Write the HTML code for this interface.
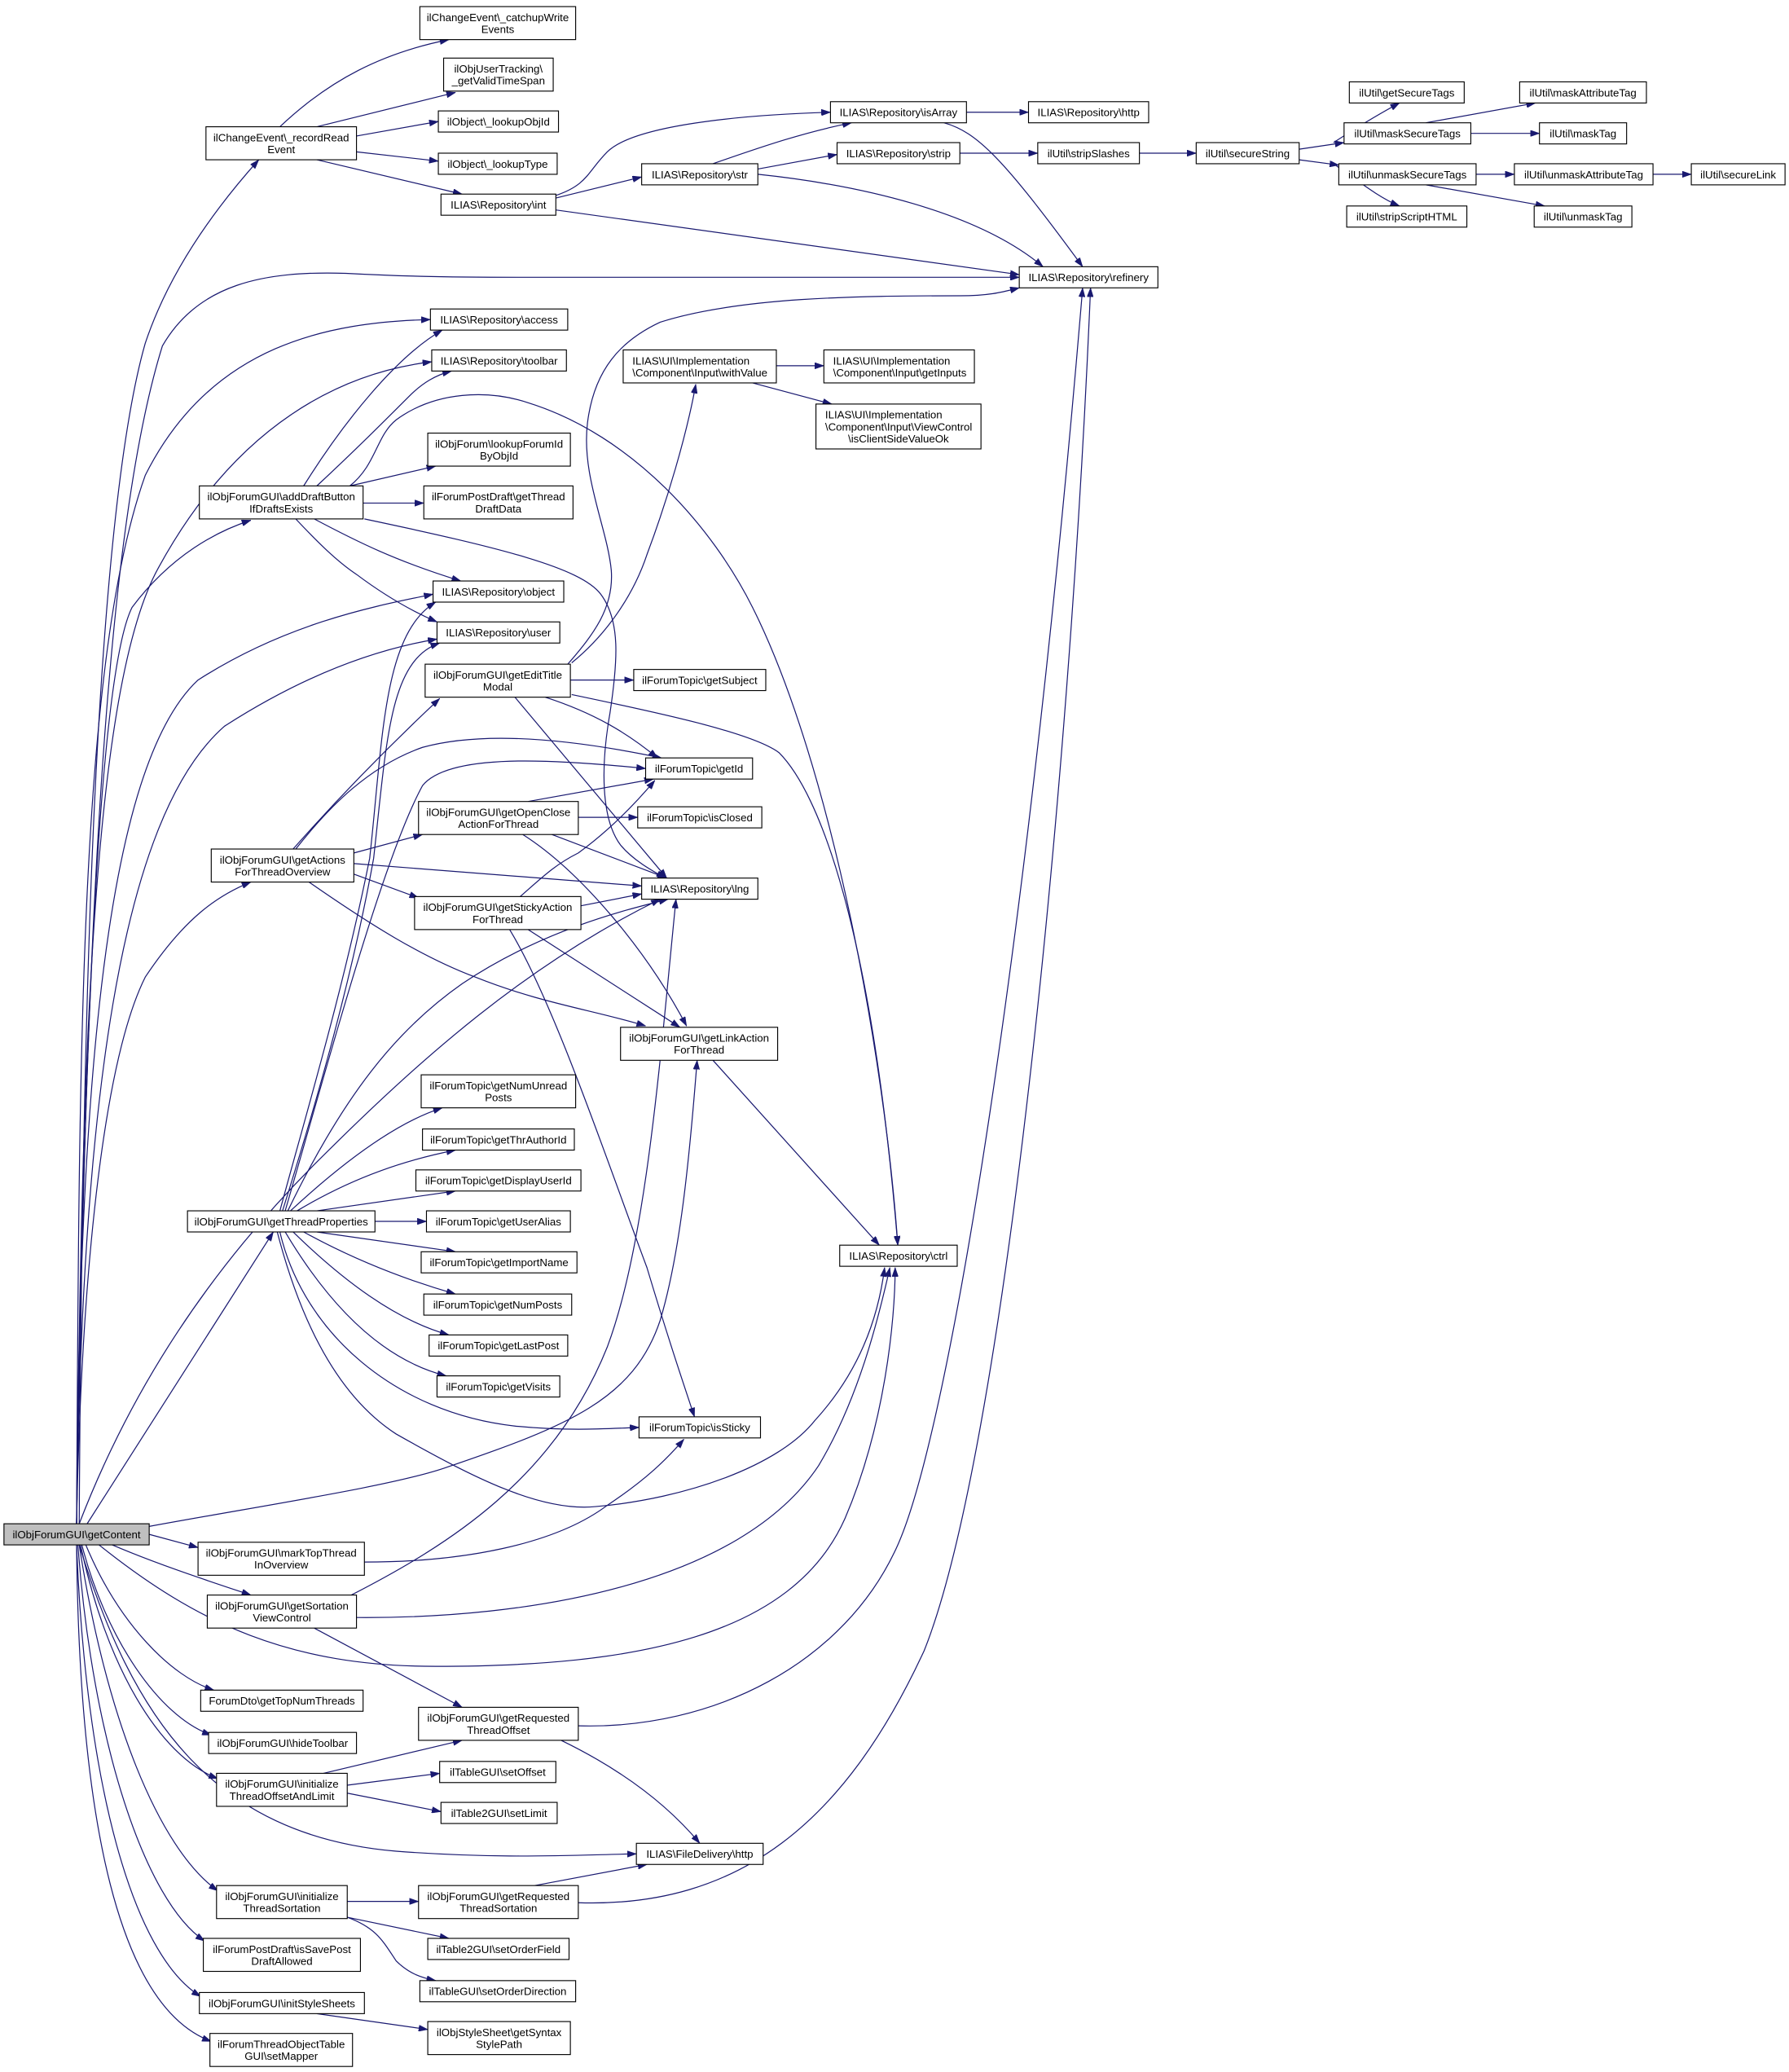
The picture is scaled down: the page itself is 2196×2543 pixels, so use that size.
<!DOCTYPE html>
<html><head><meta charset="utf-8"><style>html,body{margin:0;padding:0;background:#fff}svg{display:block}</style></head><body>
<svg xmlns="http://www.w3.org/2000/svg" width="2196" height="2543" viewBox="0 0 1355 1569.2" preserveAspectRatio="none">
<defs><marker id="a" viewBox="0 0 10 7" refX="10" refY="3.5" markerWidth="7" markerHeight="4.8" markerUnits="userSpaceOnUse" orient="auto"><path d="M0,0L10,3.5L0,7z" fill="#191970" stroke="#191970" stroke-width="0.5"/></marker></defs>
<rect width="1355" height="1570" fill="#fff"/>
<g fill="none" stroke="#191970" stroke-width="0.75" marker-end="url(#a)">
<path d="M60,1154 C62,800 70,400 110,260 C130,200 170,150 196,121"/>
<path d="M58,1154 C65,700 80,400 123,262 C150,215 200,205 262,207 C300,209 330,210 400,210 L772,210"/>
<path d="M58,1154 C60,800 60,500 110,360 C160,260 250,244 326,242"/>
<path d="M58,1154 C62,800 70,520 120,430 C180,320 260,282 327,274"/>
<path d="M58,1154 C62,900 70,520 100,460 C130,420 165,402 190,394"/>
<path d="M58,1154 C60,820 80,580 150,515 C220,470 290,458 328,450"/>
<path d="M58,1154 C62,840 90,620 170,550 C240,505 295,490 331,484"/>
<path d="M58,1154 C62,950 80,800 110,740 C140,695 165,678 190,668"/>
<path d="M66,1154 L207,933"/>
<path d="M60,1154 C100,1050 160,960 240,880 C320,800 400,730 500,681"/>
<path d="M113,1156 C200,1140 300,1125 339,1111 C430,1080 480,1060 500,1000 C515,950 522,880 528,803"/>
<path d="M75,1170 C150,1230 220,1262 330,1262 C480,1262 600,1240 640,1150 C670,1080 678,1000 678,960"/>
<path d="M113,1162 L150,1172"/>
<path d="M85,1170 C120,1185 160,1198 190,1208"/>
<path d="M65,1170 C90,1230 130,1270 162,1280"/>
<path d="M62,1170 C80,1240 120,1300 160,1314"/>
<path d="M61,1170 C80,1260 120,1330 165,1347"/>
<path d="M60,1170 C100,1300 160,1390 300,1402 C380,1408 430,1405 482,1404"/>
<path d="M60,1170 C80,1300 120,1400 165,1432"/>
<path d="M59,1170 C70,1320 110,1440 155,1470"/>
<path d="M58,1170 C65,1350 100,1480 152,1512"/>
<path d="M58,1170 C60,1380 90,1520 160,1546"/>
<path d="M276,1183 C350,1183 420,1170 460,1140 C490,1120 505,1105 518,1090"/>
<path d="M270,1225 C400,1226 560,1200 620,1110 C650,1060 665,1000 674,960"/>
<path d="M266,1208 C340,1170 420,1120 460,1020 C490,940 500,800 512,681"/>
<path d="M238,1233 L350,1293"/>
<path d="M425,1318 C460,1335 500,1360 530,1396"/>
<path d="M438,1307 C540,1310 640,1260 680,1170 C720,1080 780,700 820,218"/>
<path d="M438,1441 C560,1445 640,1380 700,1250 C760,1100 810,600 826,218"/>
<path d="M405,1428 L490,1412"/>
<path d="M263,1440 L317,1440"/>
<path d="M263,1452 L340,1468"/>
<path d="M263,1452 C285,1460 290,1470 300,1485 C310,1495 320,1498 330,1500"/>
<path d="M245,1343 L350,1318"/>
<path d="M263,1352 L333,1343"/>
<path d="M263,1358 L334,1372"/>
<path d="M240,1525 L324,1537"/>
<path d="M212,96 C250,60 290,40 340,30"/>
<path d="M240,96 L345,70"/>
<path d="M270,103 L332,92"/>
<path d="M270,115 L332,122"/>
<path d="M240,121 L350,147"/>
<path d="M421,150 L486,134"/>
<path d="M421,148 C445,140 445,130 460,115 C480,95 560,87 629,85"/>
<path d="M421,159 L772,208"/>
<path d="M540,124 C580,110 610,100 645,93"/>
<path d="M574,128 L634,117"/>
<path d="M574,132 C650,140 740,160 790,202"/>
<path d="M732,85 L779,85"/>
<path d="M715,93 C740,100 760,120 820,202"/>
<path d="M727,116 L786,116"/>
<path d="M863,116 L906,116"/>
<path d="M1010,108 C1030,95 1045,86 1060,78"/>
<path d="M984,113 L1018,108"/>
<path d="M984,121 L1014,125"/>
<path d="M1010,124 C1030,138 1045,150 1060,156"/>
<path d="M1080,93 L1163,78"/>
<path d="M1114,101 L1166,101"/>
<path d="M1118,132 L1147,132"/>
<path d="M1080,140 L1170,156"/>
<path d="M1252,132 L1281,132"/>
<path d="M230,368 C260,320 300,270 335,250"/>
<path d="M240,368 C270,340 290,320 310,300 C320,290 330,284 342,281"/>
<path d="M265,368 L330,353"/>
<path d="M275,381 L321,381"/>
<path d="M265,368 C285,352 285,330 300,318 C330,296 370,295 400,305 C480,330 540,400 570,460 C630,580 670,800 680,943"/>
<path d="M238,393 C270,410 300,425 349,440"/>
<path d="M224,393 C240,410 255,425 270,435 C290,450 310,462 331,471"/>
<path d="M276,393 C380,415 440,430 455,450 C470,470 468,500 462,540 C455,580 455,620 470,640 C480,652 495,660 504,665"/>
<path d="M430,503 C450,480 465,460 463,432 C460,400 440,360 445,320 C450,280 470,258 500,244 C560,225 650,224 727,224 C750,224 760,221 772,218"/>
<path d="M433,502 C460,480 480,450 490,420 C505,380 520,330 527,291"/>
<path d="M432,515 L480,515"/>
<path d="M413,528 C450,540 475,555 498,574"/>
<path d="M390,528 L505,665"/>
<path d="M433,526 C500,540 570,555 590,570 C620,600 660,700 680,943"/>
<path d="M222,643 C260,600 300,560 333,529"/>
<path d="M224,643 C250,610 280,580 320,566 C360,555 420,557 501,574"/>
<path d="M268,646 L320,632"/>
<path d="M268,654 L486,671"/>
<path d="M268,662 L317,680"/>
<path d="M234,668 C280,700 320,725 360,740 C410,760 450,765 489,777"/>
<path d="M400,607 L495,590"/>
<path d="M438,619 L483,619"/>
<path d="M418,632 L505,665"/>
<path d="M396,632 C440,660 490,720 520,777"/>
<path d="M394,679 C410,665 420,655 438,646 C460,630 480,610 496,591"/>
<path d="M440,686 L486,677"/>
<path d="M400,704 L515,778"/>
<path d="M386,704 C420,760 460,880 490,960 C505,1010 515,1040 526,1073"/>
<path d="M540,803 L666,943"/>
<path d="M588,277 L624,277"/>
<path d="M570,290 L630,306"/>
<path d="M212,917 C230,850 260,750 280,650 C290,560 290,480 330,456"/>
<path d="M214,917 C235,850 265,750 283,650 C293,560 295,500 333,487"/>
<path d="M218,917 C260,830 300,780 350,745 C410,705 470,690 506,681"/>
<path d="M216,917 C250,800 290,650 320,595 C340,570 420,575 489,582"/>
<path d="M220,917 C260,880 300,850 335,839"/>
<path d="M225,917 C270,890 310,878 345,871"/>
<path d="M240,917 L345,902"/>
<path d="M284,925 L323,925"/>
<path d="M240,933 L345,948"/>
<path d="M230,933 C270,955 310,970 345,980"/>
<path d="M222,933 C260,970 300,1000 340,1011"/>
<path d="M216,933 C250,990 290,1030 338,1042"/>
<path d="M212,933 C230,1010 300,1070 390,1080 C430,1084 460,1082 484,1081"/>
<path d="M210,933 C230,1010 260,1060 300,1086 C360,1120 410,1145 451,1141 C520,1135 590,1110 617,1076 C650,1040 665,1000 670,960"/>
</g>
<g fill="#fff" stroke="#000" stroke-width="0.7">
<rect x="3" y="1154" width="110" height="16" fill="#bfbfbf"/>
<rect x="156" y="96" width="114" height="25"/><rect x="318" y="5" width="118" height="25"/><rect x="336" y="44" width="83" height="25"/>
<rect x="332" y="84" width="91" height="16"/><rect x="332" y="116" width="90" height="16"/><rect x="334" y="147" width="87" height="16"/>
<rect x="486" y="124" width="88" height="16"/><rect x="629" y="77" width="103" height="16"/><rect x="779" y="77" width="91" height="16"/>
<rect x="634" y="108" width="93" height="16"/><rect x="786" y="108" width="77" height="16"/><rect x="906" y="108" width="78" height="16"/>
<rect x="1022" y="62" width="87" height="16"/><rect x="1018" y="93" width="96" height="16"/><rect x="1014" y="124" width="104" height="16"/>
<rect x="1020" y="156" width="91" height="16"/><rect x="1151" y="62" width="96" height="16"/><rect x="1166" y="93" width="66" height="16"/>
<rect x="1147" y="124" width="105" height="16"/><rect x="1162" y="156" width="74" height="16"/><rect x="1281" y="124" width="71" height="16"/>
<rect x="772" y="202" width="105" height="16"/><rect x="326" y="234" width="104" height="16"/><rect x="327" y="265" width="102" height="16"/>
<rect x="472" y="265" width="116" height="25"/><rect x="624" y="265" width="114" height="25"/><rect x="618" y="306" width="125" height="34"/>
<rect x="324" y="328" width="108" height="25"/><rect x="321" y="368" width="113" height="25"/><rect x="151" y="368" width="124" height="25"/>
<rect x="328" y="440" width="99" height="16"/><rect x="331" y="471" width="93" height="16"/><rect x="322" y="503" width="110" height="25"/>
<rect x="480" y="507" width="100" height="16"/><rect x="489" y="574" width="81" height="16"/><rect x="317" y="607" width="121" height="25"/>
<rect x="483" y="611" width="94" height="16"/><rect x="160" y="643" width="108" height="25"/><rect x="486" y="665" width="88" height="16"/>
<rect x="314" y="679" width="126" height="25"/><rect x="470" y="778" width="119" height="25"/><rect x="319" y="814" width="117" height="25"/>
<rect x="320" y="855" width="115" height="16"/><rect x="315" y="886" width="125" height="16"/><rect x="323" y="917" width="109" height="16"/>
<rect x="142" y="917" width="142" height="16"/><rect x="319" y="948" width="118" height="16"/><rect x="321" y="980" width="112" height="16"/>
<rect x="325" y="1011" width="105" height="16"/><rect x="331" y="1042" width="93" height="16"/><rect x="636" y="943" width="89" height="16"/>
<rect x="484" y="1073" width="92" height="16"/><rect x="150" y="1168" width="126" height="25"/><rect x="157" y="1208" width="113" height="25"/>
<rect x="152" y="1280" width="123" height="16"/><rect x="158" y="1312" width="112" height="16"/><rect x="164" y="1343" width="99" height="25"/>
<rect x="317" y="1293" width="121" height="25"/><rect x="333" y="1334" width="88" height="16"/><rect x="334" y="1365" width="88" height="16"/>
<rect x="482" y="1396" width="96" height="16"/><rect x="164" y="1428" width="99" height="25"/><rect x="317" y="1428" width="121" height="25"/>
<rect x="324" y="1468" width="107" height="16"/><rect x="318" y="1500" width="118" height="16"/><rect x="154" y="1468" width="119" height="25"/>
<rect x="151" y="1509" width="125" height="16"/><rect x="324" y="1531" width="108" height="25"/><rect x="159" y="1540" width="108" height="25"/>
</g>
<g font-family="'Liberation Sans', Arial, sans-serif" font-size="8.2" fill="#000" text-anchor="middle">
<text x="58" y="1165">ilObjForumGUI\getContent</text>
<text x="213" y="107">ilChangeEvent\_recordRead</text><text x="213" y="116">Event</text>
<text x="377" y="16">ilChangeEvent\_catchupWrite</text><text x="377" y="25">Events</text>
<text x="377.5" y="55">ilObjUserTracking\</text><text x="377.5" y="64">_getValidTimeSpan</text>
<text x="377.5" y="95">ilObject\_lookupObjId</text>
<text x="377" y="127">ilObject\_lookupType</text>
<text x="377.5" y="158">ILIAS\Repository\int</text>
<text x="530" y="135">ILIAS\Repository\str</text>
<text x="680.5" y="88">ILIAS\Repository\isArray</text>
<text x="824.5" y="88">ILIAS\Repository\http</text>
<text x="680.5" y="119">ILIAS\Repository\strip</text>
<text x="824.5" y="119">ilUtil\stripSlashes</text>
<text x="945" y="119">ilUtil\secureString</text>
<text x="1065.5" y="73">ilUtil\getSecureTags</text>
<text x="1066" y="104">ilUtil\maskSecureTags</text>
<text x="1066" y="135">ilUtil\unmaskSecureTags</text>
<text x="1065.5" y="167">ilUtil\stripScriptHTML</text>
<text x="1199" y="73">ilUtil\maskAttributeTag</text>
<text x="1199" y="104">ilUtil\maskTag</text>
<text x="1199.5" y="135">ilUtil\unmaskAttributeTag</text>
<text x="1199" y="167">ilUtil\unmaskTag</text>
<text x="1316.5" y="135">ilUtil\secureLink</text>
<text x="824.5" y="213">ILIAS\Repository\refinery</text>
<text x="378" y="245">ILIAS\Repository\access</text>
<text x="378" y="276">ILIAS\Repository\toolbar</text>
<text x="378" y="339">ilObjForum\lookupForumId</text><text x="378" y="348">ByObjId</text>
<text x="377.5" y="379">ilForumPostDraft\getThread</text><text x="377.5" y="388">DraftData</text>
<text x="213" y="379">ilObjForumGUI\addDraftButton</text><text x="213" y="388">IfDraftsExists</text>
<text x="377.5" y="451">ILIAS\Repository\object</text>
<text x="377.5" y="482">ILIAS\Repository\user</text>
<text x="377" y="514">ilObjForumGUI\getEditTitle</text><text x="377" y="523">Modal</text>
<text x="530" y="518">ilForumTopic\getSubject</text>
<text x="529.5" y="585">ilForumTopic\getId</text>
<text x="377.5" y="618">ilObjForumGUI\getOpenClose</text><text x="377.5" y="627">ActionForThread</text>
<text x="530" y="622">ilForumTopic\isClosed</text>
<text x="214" y="654">ilObjForumGUI\getActions</text><text x="214" y="663">ForThreadOverview</text>
<text x="530" y="676">ILIAS\Repository\lng</text>
<text x="377" y="690">ilObjForumGUI\getStickyAction</text><text x="377" y="699">ForThread</text>
<text x="529.5" y="789">ilObjForumGUI\getLinkAction</text><text x="529.5" y="798">ForThread</text>
<text x="377.5" y="825">ilForumTopic\getNumUnread</text><text x="377.5" y="834">Posts</text>
<text x="377.5" y="866">ilForumTopic\getThrAuthorId</text>
<text x="377.5" y="897">ilForumTopic\getDisplayUserId</text>
<text x="377.5" y="928">ilForumTopic\getUserAlias</text>
<text x="213" y="928">ilObjForumGUI\getThreadProperties</text>
<text x="378" y="959">ilForumTopic\getImportName</text>
<text x="377" y="991">ilForumTopic\getNumPosts</text>
<text x="377.5" y="1022">ilForumTopic\getLastPost</text>
<text x="377.5" y="1053">ilForumTopic\getVisits</text>
<text x="680.5" y="954">ILIAS\Repository\ctrl</text>
<text x="530" y="1084">ilForumTopic\isSticky</text>
<text x="213" y="1179">ilObjForumGUI\markTopThread</text><text x="213" y="1188">InOverview</text>
<text x="213.5" y="1219">ilObjForumGUI\getSortation</text><text x="213.5" y="1228">ViewControl</text>
<text x="213.5" y="1291">ForumDto\getTopNumThreads</text>
<text x="214" y="1323">ilObjForumGUI\hideToolbar</text>
<text x="213.5" y="1354">ilObjForumGUI\initialize</text><text x="213.5" y="1363">ThreadOffsetAndLimit</text>
<text x="377.5" y="1304">ilObjForumGUI\getRequested</text><text x="377.5" y="1313">ThreadOffset</text>
<text x="377" y="1345">ilTableGUI\setOffset</text>
<text x="378" y="1376">ilTable2GUI\setLimit</text>
<text x="530" y="1407">ILIAS\FileDelivery\http</text>
<text x="213.5" y="1439">ilObjForumGUI\initialize</text><text x="213.5" y="1448">ThreadSortation</text>
<text x="377.5" y="1439">ilObjForumGUI\getRequested</text><text x="377.5" y="1448">ThreadSortation</text>
<text x="377.5" y="1479">ilTable2GUI\setOrderField</text>
<text x="377" y="1511">ilTableGUI\setOrderDirection</text>
<text x="213.5" y="1479">ilForumPostDraft\isSavePost</text><text x="213.5" y="1488">DraftAllowed</text>
<text x="213.5" y="1520">ilObjForumGUI\initStyleSheets</text>
<text x="378" y="1542">ilObjStyleSheet\getSyntax</text><text x="378" y="1551">StylePath</text>
<text x="213" y="1551">ilForumThreadObjectTable</text><text x="213" y="1560">GUI\setMapper</text>
<text x="680.5" y="335">\isClientSideValueOk</text>
</g>
<g font-family="'Liberation Sans', Arial, sans-serif" font-size="8.2" fill="#000">
<text x="479" y="276">ILIAS\UI\Implementation</text><text x="479" y="285">\Component\Input\withValue</text>
<text x="631" y="276">ILIAS\UI\Implementation</text><text x="631" y="285">\Component\Input\getInputs</text>
<text x="625" y="317">ILIAS\UI\Implementation</text><text x="625" y="326">\Component\Input\ViewControl</text>
</g>
</svg>
</body></html>
